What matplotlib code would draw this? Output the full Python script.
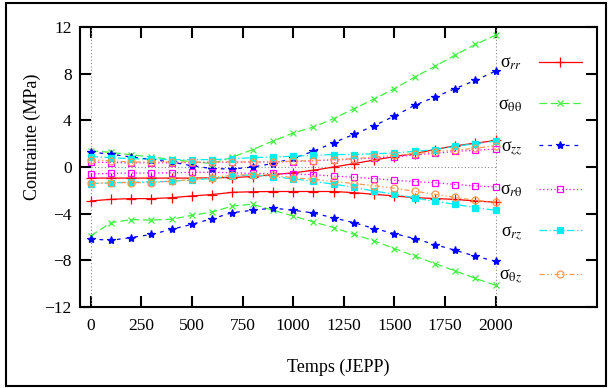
import numpy as np
import matplotlib
matplotlib.use("Agg")
import matplotlib.pyplot as plt
from matplotlib.patches import Rectangle

plt.rcParams['font.family'] = ['Liberation Serif', 'DejaVu Serif']
plt.rcParams['mathtext.fontset'] = 'stix'

# time in JEPP, one point every 100
temps = list(range(0, 2001, 100))

# two curves per stress component (values in MPa)
rr_a = [-0.95, -0.95, -0.95, -0.95, -0.95, -0.95, -0.93, -0.9, -0.82, -0.65, -0.5,
        -0.28, 0.0, 0.29, 0.6, 0.89, 1.15, 1.5, 1.82, 2.04, 2.28]
rr_b = [-2.91, -2.77, -2.71, -2.71, -2.63, -2.48, -2.36, -2.17, -2.12, -2.1, -2.1,
        -2.1, -2.1, -2.2, -2.34, -2.48, -2.63, -2.7, -2.78, -2.91, -3.02]
tt_a = [1.4, 1.25, 1.05, 0.85, 0.65, 0.45, 0.3, 0.85, 1.49, 2.23, 2.91,
        3.43, 4.15, 5.0, 5.83, 6.72, 7.71, 8.63, 9.6, 10.51, 11.31]
tt_b = [-5.9, -4.77, -4.51, -4.55, -4.48, -4.14, -3.86, -3.34, -3.2, -3.71, -4.2,
        -4.71, -5.2, -5.77, -6.34, -6.99, -7.64, -8.28, -8.91, -9.55, -10.14]
zz_a = [1.29, 1.09, 0.86, 0.63, 0.43, 0.1, -0.14, -0.17, 0.0, 0.3, 0.75,
        1.35, 2.09, 2.8, 3.54, 4.37, 5.29, 6.0, 6.72, 7.43, 8.23]
zz_b = [-6.17, -6.28, -6.05, -5.78, -5.34, -4.91, -4.43, -3.91, -3.71, -3.52, -3.71,
        -3.94, -4.37, -4.77, -5.28, -5.71, -6.14, -6.65, -7.14, -7.65, -8.08]
rt_a = [0.43, 0.38, 0.36, 0.36, 0.36, 0.38, 0.4, 0.42, 0.43, 0.43, 0.47,
        0.54, 0.6, 0.68, 0.77, 0.88, 1.03, 1.17, 1.34, 1.43, 1.54]
rt_b = [-0.6, -0.55, -0.52, -0.52, -0.5, -0.45, -0.45, -0.5, -0.55, -0.55, -0.6,
        -0.66, -0.78, -0.88, -1.0, -1.14, -1.25, -1.35, -1.5, -1.63, -1.71]
rz_a = [0.9, 0.8, 0.71, 0.68, 0.63, 0.63, 0.63, 0.71, 0.8, 0.86, 0.92,
        1.0, 1.07, 1.07, 1.14, 1.2, 1.34, 1.49, 1.77, 2.0, 2.23]
rz_b = [-1.43, -1.36, -1.3, -1.28, -1.22, -1.12, -0.97, -0.8, -0.65, -0.85, -1.0,
        -1.24, -1.47, -1.74, -2.07, -2.33, -2.65, -2.94, -3.2, -3.48, -3.71]
tz_a = [0.63, 0.51, 0.43, 0.43, 0.43, 0.43, 0.43, 0.43, 0.43, 0.43, 0.51,
        0.55, 0.63, 0.71, 0.86, 1.0, 1.14, 1.3, 1.45, 1.6, 1.83]
tz_b = [-1.4, -1.34, -1.34, -1.34, -1.22, -1.06, -0.91, -0.71, -0.65, -0.71, -0.92,
        -1.05, -1.24, -1.42, -1.6, -1.83, -2.08, -2.34, -2.61, -2.86, -3.02]

labels = [r'σ$_{rr}$', r'σ$_{\mathrm{\theta\theta}}$', r'σ$_{zz}$',
          r'σ$_{r\mathrm{\theta}}$', r'σ$_{rz}$', r'σ$_{\mathrm{\theta}z}$']
series = [(rr_a, rr_b), (tt_a, tt_b), (zz_a, zz_b), (rt_a, rt_b), (rz_a, rz_b), (tz_a, tz_b)]

styles = [
    dict(color='#ff0000', ls='-', marker='+', ms=7, mfc='none'),
    dict(color='#44ee44', ls=(0, (6, 3)), marker='x', ms=5, mfc='none'),
    dict(color='#0000ff', ls=(0, (3, 4)), marker='*', ms=6),
    dict(color='#ff00ff', ls=(0, (1, 2)), marker='s', ms=5, mfc='none'),
    dict(color='#00eeee', ls=(0, (6, 2, 1, 2)), marker='s', ms=5),
    dict(color='#ff9955', ls=(0, (4, 2, 1, 2, 1, 2)), marker='o', ms=5, mfc='none'),
]

fig = plt.figure(figsize=(6.1, 3.88), dpi=100)
ax = fig.add_axes([80 / 610, 81 / 388, 517 / 610, 280 / 388])

# dotted reference lines
ax.plot([0, 0], [-12, 12], color='#888888', ls=(0, (1, 2)), lw=0.8)
ax.plot([2000, 2000], [-12, 12], color='#888888', ls=(0, (1, 2)), lw=0.8)
ax.plot([0, 2000], [0, 0], color='#888888', ls=(0, (1, 2)), lw=0.8)

for lab, (a, b), st in zip(labels, series, styles):
    ax.plot(temps, a, lw=0.9, mew=0.9, label=lab, **st)
    ax.plot(temps, b, lw=0.9, mew=0.9, **st)

ax.set_xlim(-53, 2500)
ax.set_ylim(-12, 12)
ax.set_xticks(range(0, 2001, 250))
ax.set_yticks(range(-12, 13, 4))
ax.tick_params(direction='in', length=8, width=1.5, top=True, right=True,
               labelsize=12.5)
ax.tick_params(axis='x', pad=8)
ax.tick_params(axis='y', pad=6)
for sp in ax.spines.values():
    sp.set_linewidth(1.5)

ax.set_xlabel('Temps (JEPP)', fontsize=13)
ax.set_ylabel('Contrainte (MPa)', fontsize=13)
ax.xaxis.set_label_coords(0.5, -0.185)
ax.yaxis.set_label_coords(-0.076, 0.607)

ax.legend(loc='upper right', bbox_to_anchor=(0.971, 0.9), frameon=False,
          markerfirst=False, fontsize=13, handlelength=2.4, labelspacing=1.35,
          handletextpad=0.9, borderpad=0, borderaxespad=0)

fig.patches.append(Rectangle((6 / 610, 2 / 388), 600 / 610, 383 / 388,
                             transform=fig.transFigure, fill=False,
                             edgecolor='black', lw=1.5))

fig.savefig('out.png', dpi=100)
